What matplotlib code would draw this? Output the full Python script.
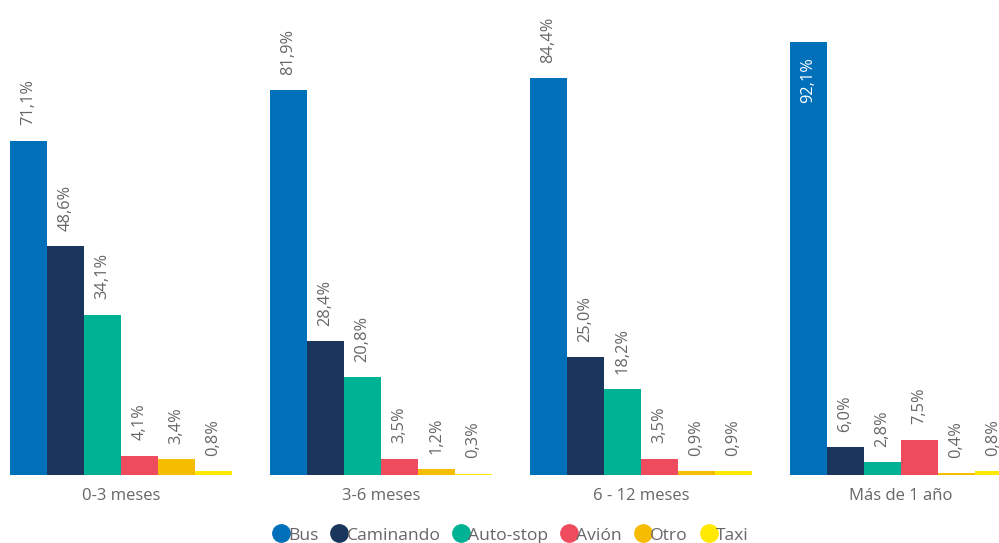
import numpy as np
import matplotlib.pyplot as plt
from matplotlib.lines import Line2D

grupos = ['0-3 meses', '3-6 meses', '6 - 12 meses', 'Más de 1 año']
series = ['Bus', 'Caminando', 'Auto-stop', 'Avión', 'Otro', 'Taxi']
bus = [71.1, 81.9, 84.4, 92.1]
caminando = [48.6, 28.4, 25.0, 6.0]
autostop = [34.1, 20.8, 18.2, 2.8]
avion = [4.1, 3.5, 3.5, 7.5]
otro = [3.4, 1.2, 0.9, 0.4]
taxi = [0.8, 0.3, 0.9, 0.8]
colores = ['#0070BA', '#1A365D', '#00B294', '#EF4B5F', '#F5BC00', '#FFE900']

valores = [bus, caminando, autostop, avion, otro, taxi]

plt.rcParams['font.family'] = ['Open Sans', 'DejaVu Sans']
gris = '#666666'

fig = plt.figure(figsize=(9.99, 5.43), dpi=100)
ax = fig.add_axes([0, 0.1252, 1, 0.8748])

x = np.arange(len(grupos))
ancho = 0.1423
for i, (nombre, vals) in enumerate(zip(series, valores)):
    pos = x + (i - 2.5) * ancho
    ax.bar(pos, vals, ancho, color=colores[i], label=nombre)
    for p, v in zip(pos, vals):
        txt = f'{v:.1f}%'.replace('.', ',')
        if v > 90:
            ax.annotate(txt, (p, v), xytext=(0, -11), textcoords='offset points',
                        rotation=90, ha='center', va='top', color='white', fontsize=11.8)
        else:
            ax.annotate(txt, (p, v), xytext=(0, 11), textcoords='offset points',
                        rotation=90, ha='center', va='bottom', color=gris, fontsize=11.8)

ax.set_xlim(-0.465, 3.377)
ax.set_ylim(0, 101)
ax.set_xticks(x)
ax.set_xticklabels(grupos, fontsize=12, color=gris)
ax.tick_params(axis='x', length=0, pad=9)
ax.set_yticks([])
for s in ax.spines.values():
    s.set_visible(False)

handles = [Line2D([], [], marker='o', linestyle='', markersize=12.5,
                  markerfacecolor=c, markeredgecolor=c) for c in colores]
fig.legend(handles, series, loc='lower center', bbox_to_anchor=(0.51, -0.03), ncol=6,
           frameon=False, handletextpad=-0.2, columnspacing=0.6, fontsize=12.6,
           labelcolor=gris, handlelength=1.2)

fig.savefig('out.png', dpi=100)
